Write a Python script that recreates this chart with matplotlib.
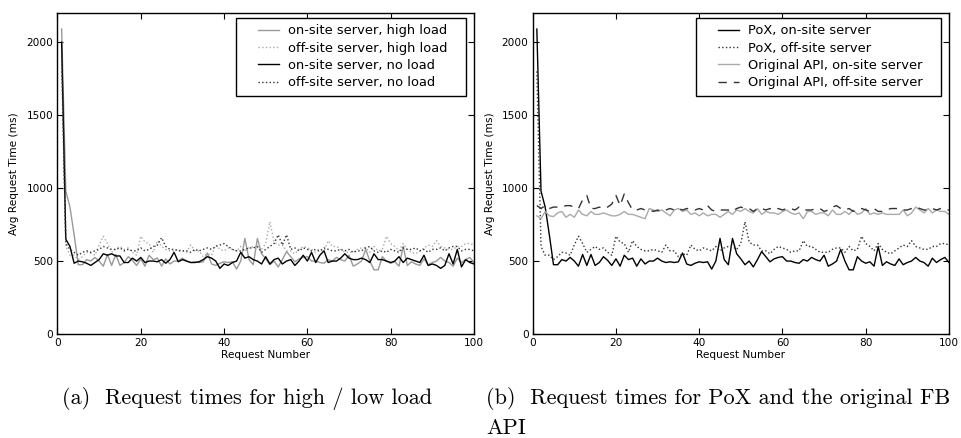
import numpy as np
import matplotlib
matplotlib.use("Agg")
import matplotlib.pyplot as plt
from matplotlib.lines import Line2D
from matplotlib.legend_handler import HandlerLine2D

# request number 1..100
req = np.arange(1, 101)

# on-site server, high load  (same run as "PoX, on-site server")
onsite_high = [2090, 980, 870, 680, 475, 475, 510, 500, 525, 500,
               465, 545, 470, 545, 470, 490, 530, 505, 470, 515,
               465, 540, 510, 520, 465, 515, 480, 500, 500, 520,
               500, 490, 495, 490, 495, 555, 480, 470, 485, 495,
               490, 495, 445, 500, 655, 510, 475, 655, 550, 515,
               475, 500, 460, 510, 565, 530, 495, 515, 525, 530,
               500, 500, 490, 485, 510, 500, 525, 510, 500, 540,
               465, 480, 500, 580, 500, 440, 440, 530, 500, 485,
               495, 465, 600, 470, 495, 480, 470, 515, 475, 490,
               500, 525, 500, 490, 465, 520, 490, 510, 525, 490]

# off-site server, high load  (same run as "PoX, off-site server")
offsite_high = [1800, 600, 540, 540, 510, 530, 560, 555, 540, 610,
                670, 620, 560, 580, 600, 580, 590, 560, 540, 670,
                630, 620, 560, 640, 600, 580, 570, 570, 580, 570,
                560, 610, 570, 570, 530, 550, 540, 610, 580, 570,
                590, 580, 570, 600, 570, 590, 600, 600, 580, 620,
                770, 630, 610, 610, 570, 570, 550, 580, 600, 590,
                580, 560, 570, 570, 640, 600, 600, 580, 560, 560,
                560, 580, 590, 590, 560, 600, 570, 580, 670, 620,
                600, 570, 620, 580, 560, 550, 570, 590, 610, 600,
                640, 600, 590, 580, 580, 600, 600, 620, 620, 610]

onsite_none = [2000, 650, 600, 485, 500, 495, 485, 470, 490, 510,
               550, 540, 550, 535, 535, 490, 490, 520, 500, 525,
               490, 500, 500, 495, 510, 485, 510, 560, 495, 510,
               500, 490, 490, 495, 510, 530, 520, 500, 450, 480,
               470, 490, 500, 560, 520, 530, 510, 500, 480, 530,
               480, 510, 520, 480, 500, 510, 470, 500, 540, 500,
               560, 490, 540, 570, 490, 500, 500, 520, 550, 520,
               510, 510, 520, 510, 490, 550, 510, 510, 500, 490,
               500, 530, 490, 520, 510, 500, 490, 540, 470, 480,
               470, 450, 470, 550, 480, 580, 460, 510, 490, 480]

offsite_none = [1950, 620, 580, 560, 540, 560, 570, 560, 570, 580,
                600, 590, 580, 580, 590, 570, 580, 570, 570, 590,
                570, 580, 600, 610, 660, 600, 580, 580, 570, 570,
                570, 560, 580, 570, 580, 590, 580, 600, 610, 620,
                600, 580, 570, 570, 580, 590, 590, 600, 560, 580,
                600, 620, 680, 610, 680, 580, 590, 570, 590, 580,
                570, 580, 570, 590, 580, 570, 570, 580, 570, 580,
                560, 570, 570, 590, 600, 570, 560, 570, 560, 580,
                570, 560, 590, 580, 580, 590, 570, 580, 560, 580,
                580, 590, 570, 590, 600, 600, 570, 580, 580, 570]

api_onsite = [810, 790, 840, 810, 805, 830, 840, 800, 820, 800,
              850, 820, 810, 840, 820, 820, 830, 820, 810, 810,
              820, 840, 820, 820, 810, 800, 790, 860, 850, 840,
              850, 830, 810, 850, 860, 840, 850, 820, 830, 810,
              830, 810, 820, 820, 800, 820, 840, 820, 850, 840,
              860, 840, 830, 860, 820, 840, 830, 830, 820, 840,
              850, 830, 820, 830, 790, 840, 840, 820, 830, 830,
              810, 850, 820, 820, 840, 820, 850, 820, 830, 860,
              820, 830, 820, 830, 820, 820, 820, 820, 850, 810,
              830, 870, 850, 830, 860, 830, 850, 840, 840, 820]

api_offsite = [880, 860, 880, 860, 870, 870, 870, 880, 880, 870,
               860, 920, 950, 860, 860, 870, 860, 870, 890, 950,
               880, 960, 900, 850, 850, 860, 850, 850, 840, 850,
               840, 850, 860, 850, 860, 850, 860, 860, 850, 860,
               850, 880, 850, 840, 850, 850, 850, 840, 860, 870,
               860, 860, 840, 860, 860, 850, 860, 850, 860, 850,
               860, 860, 850, 870, 850, 850, 850, 860, 860, 840,
               850, 870, 880, 860, 850, 860, 840, 850, 860, 850,
               840, 860, 840, 840, 850, 860, 860, 860, 850, 850,
               860, 870, 860, 850, 850, 860, 850, 860, 850, 850]

labels_a = ["on-site server, high load", "off-site server, high load",
            "on-site server, no load", "off-site server, no load"]
labels_b = ["PoX, on-site server", "PoX, off-site server",
            "Original API, on-site server", "Original API, off-site server"]

plt.rcParams['font.family'] = 'DejaVu Sans'

fig = plt.figure(figsize=(9.61, 4.38), dpi=100)
ax1 = fig.add_axes([0.0598, 0.2374, 0.4334, 0.7329])
ax2 = fig.add_axes([0.5543, 0.2374, 0.4332, 0.7329])

ax1.plot(req, onsite_high, color='#999999', lw=1.0, label=labels_a[0])
ax1.plot(req, offsite_high, color='#aaaaaa', lw=1.0, ls=':', label=labels_a[1])
ax1.plot(req, onsite_none, color='black', lw=1.0, label=labels_a[2])
ax1.plot(req, offsite_none, color='#333333', lw=1.0, ls=':', label=labels_a[3])

ax2.plot(req, onsite_high, color='black', lw=1.0, label=labels_b[0])
ax2.plot(req, offsite_high, color='#333333', lw=1.0, ls=':', label=labels_b[1])
ax2.plot(req, api_onsite, color='#aaaaaa', lw=1.0, label=labels_b[2])
ax2.plot(req, api_offsite, color='#333333', lw=1.0, ls=(0, (6, 5)), label=labels_b[3])

for ax in (ax1, ax2):
    ax.set_xlim(0, 100)
    ax.set_ylim(0, 2200)
    ax.set_xticks(np.arange(0, 101, 20))
    ax.set_yticks(np.arange(0, 2001, 500))
    ax.tick_params(direction='in', top=True, right=True, length=4,
                   labelsize=7.6, pad=3)
    ax.set_xlabel("Request Number", fontsize=7.6, labelpad=1)
    ax.set_ylabel("Avg Request Time (ms)", fontsize=7.6, labelpad=5)
    for s in ax.spines.values():
        s.set_linewidth(1.0)
    handles, labs = ax.get_legend_handles_labels()
    # trailing blanks widen the frame on the right, like old mpl legends
    labs = [l + "   " for l in labs]
    leg = ax.legend(handles, labs, loc='upper right',
                    bbox_to_anchor=(0.982, 0.985),
                    fontsize=9.4, fancybox=False, framealpha=1,
                    edgecolor='black', borderaxespad=0, handlelength=2.8,
                    labelspacing=0.33, borderpad=0.5, handletextpad=0.7,
                    handler_map={Line2D: HandlerLine2D(xpad=1.2)})
    leg.get_frame().set_linewidth(1.0)

cap_kw = dict(fontsize=16, family='cmr10', va='center', ha='left')
fig.text(0.064, 0.091, "(a)  Request times for high / low load", **cap_kw)
fig.text(0.506, 0.091, "(b)  Request times for PoX and the original FB", **cap_kw)
fig.text(0.506, 0.023, "API", **cap_kw)

fig.savefig("out.png", dpi=100)
